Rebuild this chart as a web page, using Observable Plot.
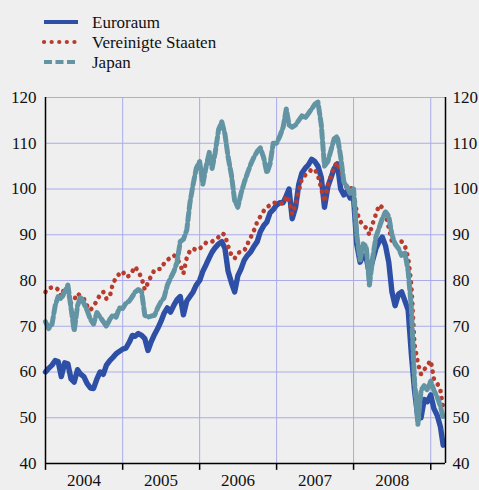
<!DOCTYPE html>
<html><head><meta charset="utf-8">
<script src="https://cdn.jsdelivr.net/npm/d3@7"></script>
<script src="https://cdn.jsdelivr.net/npm/@observablehq/plot@0.6"></script>
<style>
html,body{margin:0;padding:0;background:#efefef;}
body{width:479px;height:490px;overflow:hidden;}
body, svg, svg text{font-family:"Liberation Serif","Times New Roman",Times,"DejaVu Serif",serif !important;}
#legend{display:block}
#chart svg{display:block}
</style></head><body>
<svg id="legend" width="479" height="80"></svg>
<div id="chart"></div>
<script>
const seriesNames = ["Euroraum", "Vereinigte Staaten", "Japan"];
const seriesColors = ["#2d4fa6", "#b83c2e", "#6394a3"];

// semi-monthly readings (1st and 16th of each month), Jan 2004 - Mar 2009
const euroraum = [
  60, 60.8, 61.5, 62.5, 62.3, 59, 62, 61.8, 58.5, 57.8, 60.5, 59.5, 59, 57.5, 56.5, 56.4, 58.5, 60, 59.5, 61.5, 62.5, 63.2, 64, 64.5,
  65, 65.2, 66.5, 68, 67.8, 68.4, 68, 67.3, 64.7, 66.6, 68.2, 69.5, 71, 72.8, 74, 73.1, 74.6, 75.8, 76.5, 72.5, 75.5, 76.5, 77.5, 79,
  80, 82, 83.5, 85, 86.2, 87.2, 88, 88.5, 87, 82, 79.5, 77.5, 81, 82.5, 84.5, 85.5, 86.3, 87.5, 88.5, 90.7, 92, 92.8, 94.8, 95.5,
  96.5, 97, 97, 98.5, 100, 93.5, 96, 101, 103.5, 104.5, 105.3, 106.5, 106, 105, 102.5, 96, 100.5, 102.5, 104.5, 105.5, 100, 98.7, 99.5, 98,
  98, 88, 84, 85.5, 85, 81.5, 84.5, 87, 88.5, 89.5, 87.5, 84, 77.5, 74.5, 77, 77.5, 75.5, 73.5, 64, 56, 50, 50, 54, 53.5,
  55, 52, 50.5, 48, 44
];
const vereinigteStaaten = [
  77.5, 78.3, 78.5, 78.5, 78, 76.5, 78.5, 77.5, 75, 75.8, 77.2, 76.5, 76, 74.5, 73.5, 74.5, 75.5, 77, 77.5, 76, 76.5, 79.5, 80.5, 81.5,
  82, 80.8, 81, 82, 83, 82, 80.5, 78, 79.5, 81, 82.3, 82.5, 82.5, 83.7, 84.5, 85, 85.5, 84.8, 83.5, 81.5, 85, 86.5, 87, 86.6,
  87, 87.5, 88.3, 88.5, 88.5, 89, 89.5, 90.3, 90, 87.5, 85.5, 84.8, 86, 86.3, 86.5, 88, 89.5, 91, 92.8, 94, 95.2, 96, 96.5, 97,
  97, 97, 96.8, 98.5, 97.5, 94.5, 96.5, 99.5, 102.3, 103, 103.5, 104.3, 104.3, 103, 100, 97.2, 100.8, 102.8, 105, 105.8, 104, 101.5, 100.2, 100.5,
  99, 95, 93, 92, 91.5, 90, 92.5, 94.5, 96.5, 96, 94.5, 91.5, 88.5, 87.7, 88.5, 88.5, 87.5, 85, 79, 66, 62, 59.5, 60.5, 61.5,
  62.5, 58.5, 57.5, 56, 52
];
const japan = [
  71, 69.5, 70.5, 74.5, 76.5, 76, 77.5, 79, 74, 69, 74.5, 76.5, 75, 73.5, 71.5, 70.5, 73, 72, 71, 70, 71.5, 72.5, 72, 74,
  73.9, 75, 75.5, 76.5, 77.5, 78, 77.5, 72.4, 72, 72.2, 72.4, 74, 75.3, 76.2, 79, 80.5, 82, 84, 88.5, 89, 91, 97, 101, 104.5,
  106, 101, 105, 108, 104.5, 108, 113, 114.7, 112, 107, 103, 97.5, 96, 99, 101.5, 103.5, 105.5, 107, 108.2, 109, 106.8, 103.5, 105.5, 110,
  110, 111.5, 113.5, 117.5, 114, 113.5, 114, 115, 116, 115.5, 116.5, 117.5, 118.5, 119, 114, 105, 106, 108.5, 111, 111.5, 107, 101.5, 100.5, 99,
  100, 90, 84.5, 88, 87.5, 79, 85, 89.5, 91.5, 93.5, 95, 94, 90, 88, 87, 85.5, 86, 82, 74, 58, 48.5, 56, 57, 56,
  58, 56, 54.5, 52.5, 50
];
const yearLabels = ["2004", "2005", "2006", "2007", "2008"];
const yTicks = [40, 50, 60, 70, 80, 90, 100, 110, 120];

// date grid: 1st and 16th of each month
const dates = [];
for (let y = 2004; y <= 2009; y++)
  for (let m = 0; m < 12; m++)
    for (const d of [1, 16])
      if (dates.length < euroraum.length) dates.push(new Date(Date.UTC(y, m, d)));

const seriesValues = [euroraum, vereinigteStaaten, japan];
const rows = seriesValues.map((vals, i) => vals.map((v, j) => ({date: dates[j], value: v, series: seriesNames[i]})));

const fontStack = '"Liberation Serif", "Times New Roman", Times, "DejaVu Serif", serif';
const xStart = new Date(Date.UTC(2004, 0, 1));
const xEnd = new Date(Date.UTC(2009, 2, 12));
const yearBounds = [2004, 2005, 2006, 2007, 2008, 2009].map(y => new Date(Date.UTC(y, 0, 1)));
const gridColor = "#a9ace8";

const plot = Plot.plot({
  width: 479,
  height: 410,
  marginTop: 17,
  marginBottom: 27,
  marginLeft: 45,
  marginRight: 34,
  style: {background: "transparent", fontSize: "17px", fontFamily: fontStack, color: "#111", overflow: "visible"},
  x: {type: "utc", domain: [xStart, xEnd], axis: null},
  y: {domain: [40, 120], label: null, axis: null},
  marks: [
    Plot.ruleY(yTicks.slice(1), {stroke: gridColor, strokeWidth: 1}),
    Plot.ruleX(yearBounds.slice(1), {stroke: gridColor, strokeWidth: 1}),
    Plot.line(rows[0], {x: "date", y: "value", stroke: seriesColors[0], strokeWidth: 5.4, strokeLinejoin: "round"}),
    Plot.line(rows[1], {x: "date", y: "value", stroke: seriesColors[1], strokeWidth: 4.6, strokeDasharray: "0.1 7", strokeLinecap: "round"}),
    Plot.line(rows[2], {x: "date", y: "value", stroke: seriesColors[2], strokeWidth: 5, strokeDasharray: "8.5 3.5"}),
    Plot.ruleX([xStart, xEnd], {stroke: "#000", strokeWidth: 1.5}),
    Plot.ruleY([40], {stroke: "#000", strokeWidth: 1.5}),
    Plot.ruleX(yearBounds, {y1: 40, y2: 38.5, stroke: "#000", strokeWidth: 1.5}),
    Plot.axisY(yTicks, {anchor: "left", tickSize: 0, tickPadding: 9, label: null}),
    Plot.axisY(yTicks, {anchor: "right", tickSize: 0, tickPadding: 7, label: null}),
    Plot.text(yearLabels, {x: d => new Date(Date.UTC(+d, 6, 2)), frameAnchor: "bottom", dy: 17, text: d => d, lineAnchor: "middle"})
  ]
});
document.getElementById("chart").appendChild(plot);

// legend
const lg = d3.select("#legend");
const legendY = [22, 42, 62];
const dashes = [null, "0.1 7.5", "8 3.5"];
const caps = ["butt", "round", "butt"];
seriesNames.forEach((name, i) => {
  lg.append("line").attr("x1", 44).attr("x2", 78).attr("y1", legendY[i]).attr("y2", legendY[i])
    .attr("stroke", seriesColors[i]).attr("stroke-width", 4.2)
    .attr("stroke-dasharray", dashes[i]).attr("stroke-linecap", caps[i]);
  lg.append("text").attr("x", 92).attr("y", legendY[i] + 6)
    .style("font-size", "17px").attr("fill", "#111")
    .style("font-family", fontStack).text(name);
});
</script>
</body></html>
